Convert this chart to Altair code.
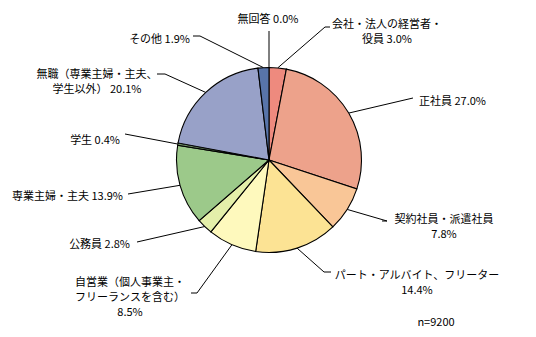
import math
import altair as alt
import pandas as pd

# ---- data ----
categories = ["無回答", "会社・法人の経営者・役員", "正社員", "契約社員・派遣社員",
              "パート・アルバイト、フリーター", "自営業（個人事業主・フリーランスを含む）",
              "公務員", "専業主婦・主夫", "学生", "無職（専業主婦・主夫、学生以外）", "その他"]
values = [0.0, 3.0, 27.0, 7.8, 14.4, 8.5, 2.8, 13.9, 0.4, 20.1, 1.9]
colors = ["#FFFFFF", "#EE8A7E", "#EDA28B", "#F9C697", "#FCE394", "#FEF9BD",
          "#E4EFAA", "#9CC98A", "#6E8F66", "#98A1C8", "#5874A9"]
label_lines = [
    ["無回答 {p}"],
    ["会社・法人の経営者・", "役員 {p}"],
    ["正社員 {p}"],
    ["契約社員・派遣社員", "{p}"],
    ["パート・アルバイト、フリーター", "{p}"],
    ["自営業（個人事業主・", "フリーランスを含む）", "{p}"],
    ["公務員 {p}"],
    ["専業主婦・主夫 {p}"],
    ["学生 {p}"],
    ["無職（専業主婦・主夫、", "学生以外） {p}"],
    ["その他 {p}"],
]
note = "n=9200"

# ---- layout (pixels) ----
W, H = 536, 337
CX, CY, R = 269, 160, 92.5
FONT = "Noto Sans CJK JP"
FS = 11
LINE_H = 15
# label anchor x, first line y, align
label_pos = [
    (268, 20, "center"),
    (387, 25, "center"),
    (419, 102, "left"),
    (444, 220, "center"),
    (417, 276, "center"),
    (130, 283, "center"),
    (130, 245, "right"),
    (123, 197, "right"),
    (120, 141, "right"),
    (97, 75, "center"),
    (190, 40, "right"),
]
# leader elbow point and optional stub end
leader_elbow = [
    (269, 31), (325, 27), (413, 98), (387, 221), (324, 272), (197, 293),
    (137, 242), (128, 194), (125, 134), (165, 74), (200, 36),
]
leader_stub = [
    None, (330, 27), None, (382, 221), (331, 272), (191, 293),
    None, None, None, (157, 74), (193, 36),
]

total = sum(values)

pie_df = pd.DataFrame({"cat": categories, "value": values, "idx": list(range(len(values)))})

seg_rows = []
text_rows = []
cum = 0.0
for i, v in enumerate(values):
    mid = (cum + v / 2) / total * 2 * math.pi
    cum += v
    ex0 = CX + R * math.sin(mid)
    ey0 = CY - R * math.cos(mid)
    bx, by = leader_elbow[i]
    seg_rows.append({"x": ex0, "y": ey0, "x2": bx, "y2": by})
    if leader_stub[i] is not None:
        sx, sy = leader_stub[i]
        seg_rows.append({"x": bx, "y": by, "x2": sx, "y2": sy})
    ax, ay, al = label_pos[i]
    for j, line in enumerate(label_lines[i]):
        text_rows.append({"t": line.replace("{p}", f"{v:.1f}%"), "x": ax,
                          "y": ay + j * LINE_H, "align": al})

seg_df = pd.DataFrame(seg_rows)
text_df = pd.DataFrame(text_rows)

xs = alt.Scale(domain=[0, W], range=[0, W])
ys = alt.Scale(domain=[0, H], range=[0, H])

pie = alt.Chart(pie_df).mark_arc(radius=R, stroke="#000000", strokeWidth=1.1).encode(
    theta=alt.Theta("value:Q", stack=True),
    order=alt.Order("idx:Q"),
    color=alt.Color("cat:N", scale=alt.Scale(domain=categories, range=colors), legend=None),
    x=alt.value(CX),
    y=alt.value(CY),
)

rules = alt.Chart(seg_df).mark_rule(color="#000000", strokeWidth=1).encode(
    x=alt.X("x:Q", scale=xs, axis=None),
    y=alt.Y("y:Q", scale=ys, axis=None),
    x2="x2:Q",
    y2="y2:Q",
)

texts = []
for al in ["left", "center", "right"]:
    sub = text_df[text_df["align"] == al]
    if len(sub) == 0:
        continue
    texts.append(
        alt.Chart(sub).mark_text(align=al, baseline="middle", font=FONT, fontSize=FS, color="#000000").encode(
            x=alt.X("x:Q", scale=xs, axis=None),
            y=alt.Y("y:Q", scale=ys, axis=None),
            text="t:N",
        )
    )

note_df = pd.DataFrame({"t": [note], "x": [436], "y": [323]})
note_layer = alt.Chart(note_df).mark_text(align="center", baseline="middle", font=FONT, fontSize=FS, color="#000000").encode(
    x=alt.X("x:Q", scale=xs, axis=None),
    y=alt.Y("y:Q", scale=ys, axis=None),
    text="t:N",
)

chart = alt.layer(rules, pie, *texts, note_layer).properties(
    width=W, height=H, autosize=alt.AutoSizeParams(type="none"), padding=0,
    background="#FFFFFF",
).configure_view(stroke=None)

chart.save("out.html", embed_options={"renderer": "svg", "actions": False})
